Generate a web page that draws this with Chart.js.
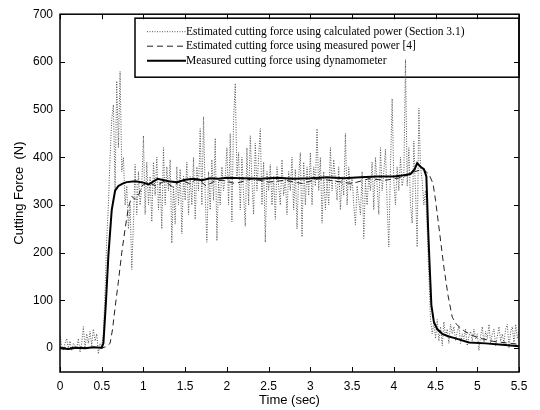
<!DOCTYPE html>
<html>
<head>
<meta charset="utf-8">
<script src="https://cdn.jsdelivr.net/npm/chart.js@4/dist/chart.umd.min.js"></script>
<style>
  html, body { margin: 0; padding: 0; background: #fff; }
  #wrap { width: 540px; height: 410px; }
</style>
</head>
<body>
<div id="wrap"><canvas id="chart" width="540" height="410"></canvas></div>
<script>
// Data //
const seriesNames = [
    'Estimated cutting force using calculated power (Section 3.1)',
    'Estimated cutting force using measured power [4]',
    'Measured cutting force using dynamometer'
];

// calculated-power estimate, one sample every 0.02 s from t = 0
const calcStep = 0.02;
const calcForce = [
    30, 5, -5, 10, 20, 0, 15, -5, 10, 5, 0, 20, -8, 10, 45, 0, 30, 10, 35, 5, 40, 15, 30, -12, 10,
    5, 30, 120, 230, 300, 400, 480, 510, 330, 560, 420, 580, 370, 400, 300, 340, 250, 300, 165, 260, 385, 280, 370, 300, 340,
    445, 280, 390, 300, 360, 265, 390, 320, 400, 290, 350, 250, 420, 300, 380, 330, 395, 220, 340, 260, 380, 300, 375, 240, 360,
    310, 390, 280, 360, 300, 400, 270, 380, 330, 460, 300, 485, 320, 222, 370, 290, 395, 310, 440, 225, 350, 300, 380, 330, 360,
    420, 300, 450, 265, 480, 555, 360, 410, 290, 400, 320, 255, 420, 300, 445, 350, 280, 430, 330, 400, 460, 300, 390, 222, 370,
    330, 385, 300, 360, 270, 380, 340, 300, 395, 320, 355, 280, 370, 330, 400, 290, 375, 250, 360, 410, 233, 390, 300, 380, 320,
    410, 300, 380, 340, 460, 330, 400, 262, 370, 290, 350, 300, 420, 330, 395, 350, 310, 380, 290, 360, 320, 450, 300, 380, 330,
    360, 300, 258, 340, 310, 280, 370, 230, 350, 300, 360, 330, 390, 290, 400, 340, 280, 420, 330, 370, 417, 300, 212, 380, 523,
    350, 300, 380, 330, 400, 340, 360, 605, 340, 420, 300, 262, 434, 330, 212, 503, 380, 350, 300, 330, 250, 150, 60, 30, 55,
    20, 60, 15, 45, 5, 55, 25, 40, 10, 50, 30, 45, 15, 35, 45, 10, 30, 20, 40, 5, 25, 35, 15, 40, 20,
    30, -5, 25, 45, 10, 35, 20, 50, 10, 30, 40, 5, 25, 45, 15, 30, 10, 40, 50, 0, 35, 45, 10, 50, 20, 35
];

// measured-power estimate
const estTime = [0, 0.1, 0.2, 0.3, 0.4, 0.5, 0.55, 0.6, 0.63, 0.66, 0.7, 0.74, 0.78, 0.82, 0.86, 0.9, 0.94, 0.98,
    1.05, 1.15, 1.25, 1.35, 1.45, 1.55, 1.65, 1.75, 1.85, 1.95, 2.1, 2.3, 2.5, 2.7, 2.9, 3.1, 3.3, 3.5, 3.7, 3.9,
    4.1, 4.25, 4.35, 4.42, 4.47, 4.5, 4.55, 4.6, 4.65, 4.7, 4.75, 4.85, 5.0, 5.2, 5.5];
const estForce = [2, 0, 3, 1, 2, 0, 3, 10, 40, 85, 140, 200, 250, 295, 318, 312, 320, 340,
    348, 340, 350, 338, 352, 345, 355, 340, 350, 352, 345, 355, 348, 352, 345, 355, 350, 345, 355, 352,
    358, 370, 375, 365, 345, 310, 240, 170, 110, 65, 50, 35, 22, 14, 8];

// dynamometer
const measTime = [0, 0.1, 0.2, 0.3, 0.4, 0.5, 0.52, 0.55, 0.58, 0.62, 0.66, 0.7, 0.75, 0.8, 0.9, 1.0, 1.06, 1.17,
    1.3, 1.4, 1.5, 1.6, 1.7, 1.8, 1.9, 2.0, 2.2, 2.4, 2.6, 2.8, 3.0, 3.2, 3.4, 3.6, 3.8, 4.0, 4.1, 4.2,
    4.25, 4.28, 4.32, 4.36, 4.39, 4.41, 4.43, 4.45, 4.48, 4.52, 4.58, 4.65, 4.75, 4.9, 5.1, 5.3, 5.5];
const measForce = [0, -2, 1, 0, 2, 1, 10, 95, 195, 290, 330, 340, 345, 348, 350, 347, 343, 355,
    350, 348, 353, 355, 352, 356, 355, 357, 356, 355, 357, 355, 356, 358, 356, 358, 360, 360, 362, 365,
    375, 388, 380, 375, 360, 255, 170, 90, 55, 40, 30, 25, 20, 12, 10, 7, 4];

const xTicks = [0, 0.5, 1, 1.5, 2, 2.5, 3, 3.5, 4, 4.5, 5, 5.5];
const yTicks = [0, 100, 200, 300, 400, 500, 600, 700];

// Ejes estilo MATLAB: marco y marcas hacia dentro //
const frameTicks = {
    id: 'frameTicks',
    afterDatasetsDraw(chart) {
        const { ctx, chartArea: a, scales } = chart;
        ctx.save();
        ctx.strokeStyle = '#000';
        ctx.lineWidth = 1;
        ctx.beginPath();
        xTicks.forEach(v => {
            const px = Math.round(scales.x.getPixelForValue(v)) + 0.5;
            ctx.moveTo(px, a.bottom); ctx.lineTo(px, a.bottom - 5);
            ctx.moveTo(px, a.top); ctx.lineTo(px, a.top + 5);
        });
        yTicks.forEach(v => {
            const py = Math.round(scales.y.getPixelForValue(v)) + 0.5;
            ctx.moveTo(a.left, py); ctx.lineTo(a.left + 5, py);
            ctx.moveTo(a.right, py); ctx.lineTo(a.right - 5, py);
        });
        ctx.stroke();
        ctx.lineWidth = 1.5;
        ctx.strokeRect(a.left, a.top, a.right - a.left, a.bottom - a.top);
        ctx.restore();
    }
};

// Leyenda con marco dentro del area //
const boxedLegend = {
    id: 'boxedLegend',
    beforeDatasetsDraw(chart) {
        const { ctx, chartArea: a } = chart;
        const w = 384, h = 59;
        const left = a.right - w, top = a.top + 4;
        ctx.save();
        ctx.fillStyle = '#fff';
        ctx.fillRect(left, top, w, h);
        ctx.strokeStyle = '#000';
        ctx.lineWidth = 1.5;
        ctx.strokeRect(left, top, w, h);
        ctx.font = '11.5px "Liberation Serif", serif';
        ctx.textBaseline = 'middle';
        chart.data.datasets.forEach((ds, i) => {
            const y = top + 13.5 + i * 14.5;
            ctx.strokeStyle = ds.borderColor;
            ctx.lineWidth = ds.borderWidth;
            ctx.setLineDash(ds.borderDash || []);
            ctx.beginPath();
            ctx.moveTo(left + 12, y);
            ctx.lineTo(left + 51, y);
            ctx.stroke();
            ctx.setLineDash([]);
            ctx.fillStyle = '#000';
            ctx.fillText(ds.label, left + 51, y);
        });
        ctx.restore();
    }
};

const chart = document.querySelector('#chart').getContext('2d');

new Chart(chart, {
    type: 'line',
    data: {
        datasets: [
            {
                label: seriesNames[0],
                data: calcForce.map((v, i) => ({ x: i * calcStep, y: v })),
                borderColor: '#555',
                borderWidth: 1,
                borderDash: [1, 1.5],
                order: 3
            },
            {
                label: seriesNames[1],
                data: estTime.map((t, i) => ({ x: t, y: estForce[i] })),
                borderColor: '#222',
                borderWidth: 1,
                borderDash: [6, 4],
                order: 2
            },
            {
                label: seriesNames[2],
                data: measTime.map((t, i) => ({ x: t, y: measForce[i] })),
                borderColor: '#000',
                borderWidth: 2,
                order: 1
            }
        ]
    },
    options: {
        responsive: false,
        animation: false,
        elements: { point: { radius: 0 }, line: { tension: 0 } },
        layout: { padding: { left: 0, right: 21, top: 12, bottom: 0 } },
        plugins: { legend: { display: false }, tooltip: { enabled: false } },
        scales: {
            x: {
                type: 'linear',
                min: 0,
                max: 5.5,
                afterBuildTicks: s => { s.ticks = xTicks.map(v => ({ value: v })); },
                afterFit: s => { s.height = 38; },
                grid: { display: false, drawTicks: false },
                border: { display: false },
                ticks: {
                    padding: 7,
                    color: '#000',
                    font: { family: '"Liberation Sans", Arial, sans-serif', size: 12 },
                    callback: v => String(v)
                },
                title: {
                    display: true,
                    text: 'Time (sec)',
                    color: '#000',
                    font: { family: '"Liberation Sans", Arial, sans-serif', size: 13 },
                    padding: { top: 0, bottom: 2 }
                }
            },
            y: {
                min: -50,
                max: 700,
                afterBuildTicks: s => { s.ticks = yTicks.map(v => ({ value: v })); },
                afterFit: s => { s.width = 60; },
                grid: { display: false, drawTicks: false },
                border: { display: false },
                ticks: {
                    padding: 7,
                    color: '#000',
                    font: { family: '"Liberation Sans", Arial, sans-serif', size: 12 },
                    callback: v => String(v)
                },
                title: {
                    display: true,
                    text: 'Cutting Force  (N)',
                    color: '#000',
                    font: { family: '"Liberation Sans", Arial, sans-serif', size: 13 },
                    padding: { top: 12, bottom: 0 }
                }
            }
        }
    },
    plugins: [boxedLegend, frameTicks]
});
</script>
</body>
</html>
